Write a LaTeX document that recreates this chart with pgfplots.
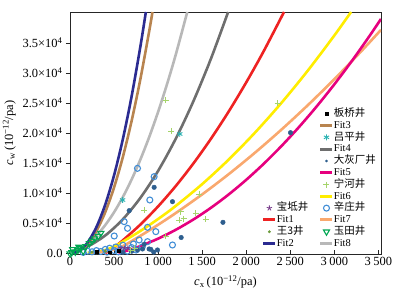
\documentclass[border=0pt]{standalone}
\usepackage{pgfplots}
\pgfplotsset{compat=1.18}
\usepackage{fontspec}
\setmainfont{Liberation Serif}
\newfontfamily\cjk{Noto Sans CJK SC}
\definecolor{cNavy}{RGB}{43,43,145}
\definecolor{cBrown}{RGB}{184,132,79}
\definecolor{cDGray}{RGB}{110,110,110}
\definecolor{cLGray}{RGB}{184,184,184}
\definecolor{cRed}{RGB}{238,34,34}
\definecolor{cYellow}{RGB}{255,237,0}
\definecolor{cOrange}{RGB}{249,168,110}
\definecolor{cMag}{RGB}{230,0,126}
\definecolor{cTeal}{RGB}{42,178,178}
\definecolor{cLGreen}{RGB}{165,212,106}
\definecolor{cBlueO}{RGB}{66,142,214}
\definecolor{cBlueF}{RGB}{46,94,142}
\definecolor{cGreen}{RGB}{0,166,81}
\definecolor{cPurple}{RGB}{122,62,140}
\definecolor{cOlive}{RGB}{106,154,58}
\newcommand{\yl}[1]{\textrm{#1×10\textsuperscript{4}}}
\newcommand{\xl}[1]{\textrm{#1}}
\pgfplotsset{
 barleg/.style={legend image code/.code={\draw[##1,line width=3bp] (0bp,0bp) -- (12bp,0bp);}},
 markleg/.style={legend image code/.code={\draw[##1] plot coordinates {(6bp,0bp)};}},
 fitline/.style={smooth, line width=2.6bp, no marks},
}
\begin{document}
\begin{tikzpicture}
\useasboundingbox (-70bp,-47bp) rectangle (331bp,254bp);
\begin{axis}[
 at={(0,0)}, anchor=south west, scale only axis, width=311bp, height=242bp,
 xmin=0, xmax=3530, ymin=-170, ymax=40170,
 scaled y ticks=false, scaled x ticks=false,
 axis line style={black!85, line width=0.8bp},
 tick pos=left,
 xtick align=inside, ytick align=outside,
 major tick length=4bp,
 tick style={black!85, line width=0.8bp},
 xtick={0,500,1000,1500,2000,2500,3000,3500},
 xticklabels={\xl{0},\xl{500},\xl{1\kern2.5bp000},\xl{1\kern2.5bp500},\xl{2\kern2.5bp000},\xl{2\kern2.5bp500},\xl{3\kern2.5bp000},\xl{3\kern2.5bp500}},
 ytick={0,5000,10000,15000,20000,25000,30000,35000},
 yticklabels={\xl{0.0},\yl{0.5},\yl{1.0},\yl{1.5},\yl{2.0},\yl{2.5},\yl{3.0},\yl{3.5}},
 ticklabel style={font=\rmfamily\fontsize{12.5}{14}\selectfont},
 label style={font=\rmfamily\fontsize{12.5}{14}\selectfont},
 xlabel={\textit{c}\textsubscript{x}\,(10\textsuperscript{−12}/pa)},
 ylabel={\textit{c}\textsubscript{w}\,(10\textsuperscript{−12}/pa)},
 xlabel style={yshift=-3bp},
]
% Fit curves
\addplot[fitline, cRed] coordinates {(400,0)(450,376)(500,932)(600,2112)(800,4753)(1000,7767)(1200,11153)(1400,14913)(1600,19045)(1800,23551)(2000,28430)(2200,33681)(2429,40170)};
\addplot[fitline, cYellow] coordinates {(200,0)(300,200)(400,500)(500,1074)(600,1894)(800,3681)(1000,5663)(1200,7841)(1500,11476)(1800,15550)(2100,20065)(2400,25020)(2700,30415)(3000,36250)(3190,40170)};
\addplot[fitline, cOrange] coordinates {(250,0)(400,250)(500,600)(600,1136)(800,2867)(1000,4704)(1200,6648)(1500,9765)(1800,13123)(2100,16722)(2400,20563)(2700,24645)(3000,28968)(3300,33532)(3530,37194)};
\addplot[fitline, cMag] coordinates {(550,0)(600,181)(700,642)(800,1163)(1000,2390)(1200,3861)(1400,5577)(1600,7537)(1800,9742)(2000,12191)(2200,14885)(2400,17823)(2600,21005)(2800,24433)(3000,28104)(3200,32020)(3400,36181)(3530,39016)};
\addplot[fitline, cDGray] coordinates {(0,143)(200,1087)(400,2913)(600,5620)(800,9210)(1000,13683)(1200,19038)(1400,25275)(1600,32395)(1795,40170)};
\addplot[fitline, cLGray] coordinates {(0,129)(100,653)(200,1581)(300,2912)(400,4646)(500,6783)(600,9324)(700,12268)(800,15615)(900,19365)(1000,23519)(1100,28076)(1200,33036)(1331,40170)};
\addplot[fitline, cBrown] coordinates {(25,0)(100,272)(200,1482)(300,3660)(400,6806)(500,10920)(600,16002)(700,22052)(800,29070)(900,37056)(936,40170)};
\addplot[fitline, cNavy] coordinates {(26,0)(100,315)(200,1744)(300,4324)(400,8057)(500,12941)(600,18978)(700,26166)(800,34507)(861,40170)};
% data
\addplot[only marks, mark=o, mark size=3bp, cBlueO, line width=1.1bp] coordinates {(766,14111)(955,12722)(906,8833)(615,5222)(653,4111)(502,2833)(880,4278)(974,3556)(785,2167)(880,1889)(1163,1333)(150,100)(200,300)(250,200)(300,400)(350,250)(400,600)(420,150)(450,800)(500,400)(520,1000)(550,200)(580,600)(600,1300)(650,300)(700,900)(720,1500)(750,500)(820,1000)};
\addplot[only marks, mark=*, mark size=2.3bp, cBlueF] coordinates {(955,10944)(672,7056)(1163,8556)(1262,2580)(842,1444)(917,611)(766,500)(993,500)(1736,5111)(2503,20056)(823,667)(898,667)(700,300)(600,100)(950,150)};
\addplot[only marks, mark=+, mark size=3bp, cLGreen, line width=0.9bp] coordinates {(1087,25500)(1152,20333)(2356,25000)(842,7167)(1238,5500)(1087,2833)(691,500)(1257,6889)(1290,5700)(1427,6611)(1540,5611)(1464,9833)(735,800)};
\addplot[only marks, mark=asterisk, mark size=3bp, cTeal, line width=0.9bp] coordinates {(1246,19833)(597,8833)};
\addplot[only marks, mark=triangle, mark options={rotate=180}, mark size=3.5bp, cGreen, line width=1.1bp] coordinates {(0,-100)(20,100)(60,200)(90,500)(120,800)(150,300)(180,1100)(220,1600)(250,2000)(280,2400)(320,2800)(350,3300)(100,1000)(30,600)};
\addplot[only marks, mark=star, mark size=2.5bp, cPurple, line width=0.8bp] coordinates {(578,833)(620,800)(657,850)};
\addplot[only marks, mark=square*, mark size=1.3bp, black] coordinates {(300,200)(450,100)(550,350)};
\addplot[only marks, mark=*, mark size=1.3bp, cOlive] coordinates {(250,150)(400,300)};
\end{axis}
% right legend column
\begin{axis}[
 at={(0,0)}, anchor=south west, scale only axis, width=311bp, height=242bp,
 xmin=0, xmax=1, ymin=0, ymax=1, hide axis,
 legend cell align=left,
 legend style={draw=none, fill=none, at={(0.8006,0.0236)}, anchor=south west, inner sep=0pt, outer sep=0pt, row sep=2.3bp, font=\rmfamily\fontsize{10.5}{12}\selectfont, nodes={inner sep=0pt, text height=7.5bp, text depth=2bp}, /tikz/every even column/.style={column sep=5bp}},
]
\addlegendimage{markleg, mark=square*, mark size=1.5bp, black}
\addlegendentry{\cjk 板桥井}
\addlegendimage{barleg, cBrown}
\addlegendentry{Fit3}
\addlegendimage{markleg, mark=asterisk, mark size=3bp, cTeal, line width=0.9bp}
\addlegendentry{\cjk 吕平井}
\addlegendimage{barleg, cDGray}
\addlegendentry{Fit4}
\addlegendimage{markleg, mark=*, mark size=1.1bp, cBlueF}
\addlegendentry{\cjk 大灰厂井}
\addlegendimage{barleg, cMag}
\addlegendentry{Fit5}
\addlegendimage{markleg, mark=+, mark size=3bp, cLGreen, line width=0.9bp}
\addlegendentry{\cjk 宁河井}
\addlegendimage{barleg, cYellow}
\addlegendentry{Fit6}
\addlegendimage{markleg, mark=o, mark size=3bp, cBlueO, line width=1.1bp}
\addlegendentry{\cjk 辛庄井}
\addlegendimage{barleg, cOrange}
\addlegendentry{Fit7}
\addlegendimage{markleg, mark=triangle, mark options={rotate=180}, mark size=3.5bp, cGreen, line width=1.1bp}
\addlegendentry{\cjk 玉田井}
\addlegendimage{barleg, cLGray}
\addlegendentry{Fit8}
\end{axis}
% left legend column
\begin{axis}[
 at={(0,0)}, anchor=south west, scale only axis, width=311bp, height=242bp,
 xmin=0, xmax=1, ymin=0, ymax=1, hide axis,
 legend cell align=left,
 legend style={draw=none, fill=none, at={(0.617,0.0236)}, anchor=south west, inner sep=0pt, outer sep=0pt, row sep=2.3bp, font=\rmfamily\fontsize{10.5}{12}\selectfont, nodes={inner sep=0pt, text height=7.5bp, text depth=2bp}, /tikz/every even column/.style={column sep=9bp}},
]
\addlegendimage{markleg, mark=star, mark size=2.8bp, cPurple, line width=0.8bp}
\addlegendentry{\cjk 宝坻井}
\addlegendimage{barleg, cRed}
\addlegendentry{Fit1}
\addlegendimage{markleg, mark=*, mark size=1.3bp, cOlive}
\addlegendentry{\cjk 王3井}
\addlegendimage{barleg, cNavy}
\addlegendentry{Fit2}
\end{axis}
\end{tikzpicture}
\end{document}
